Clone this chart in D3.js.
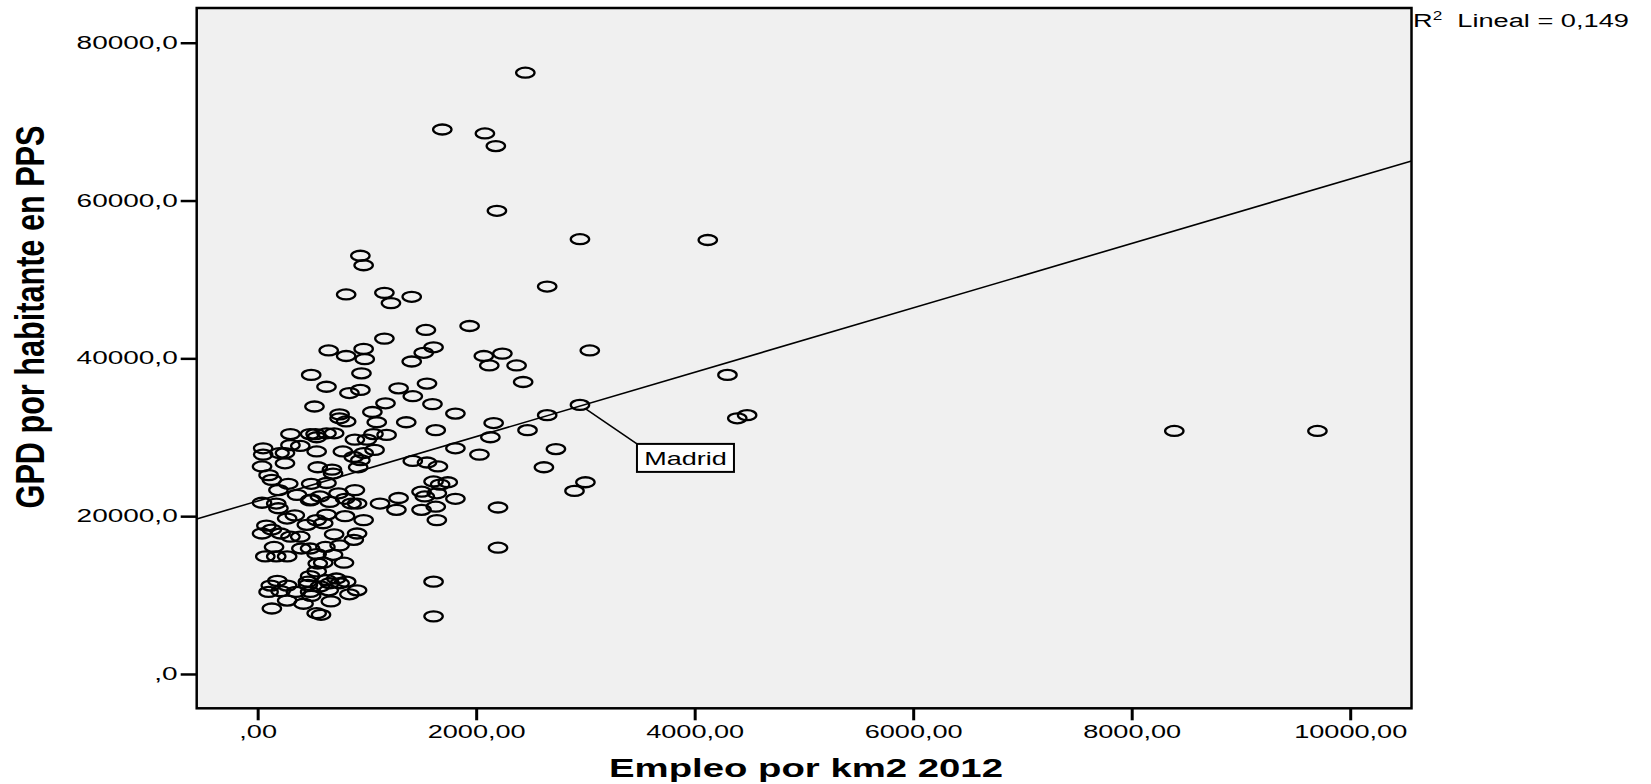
<!DOCTYPE html>
<html>
<head>
<meta charset="utf-8">
<script src="https://cdn.jsdelivr.net/npm/d3@7"></script>
<style>
  html, body { margin: 0; padding: 0; background: #ffffff; }
  svg { display: block; }
  text { font-family: "Liberation Sans", Arial, Helvetica, sans-serif; fill: #000; }
</style>
</head>
<body>
<svg id="chart" width="1651" height="784"></svg>
<script>
// Employment density (jobs per km2, 2012) for each region
const empleo = [
  2450, 1690, 2080, 2180, 2190, 2950, 4120, 2650, 1940, 3040, 4300, 4390, 4480, 8390, 9700, 2950,
  2730, 2620, 3000, 2900, 2200, 2200, 1610, 1610, 2650, 2470, 2130, 2160, 1810, 2030, 1810, 1810,
  2070, 2240, 2120, 2370, 2430,
  940, 970, 810, 1160, 1220, 1410, 1540, 1160, 650, 810, 970, 980, 1610, 1520, 1410, 490,
  950, 630, 840, 940, 1290, 1550, 1420, 520, 1170, 1600, 1050, 750, 750, 810, 1090, 1360, 1630,
  300, 480, 530, 540, 630, 700, 890, 1000, 1060, 1180,
  50, 50, 300, 390, 250, 200, 540, 780, 880, 970, 1070, 940,
  40, 250, 550, 680, 690, 920, 1420, 1550, 1650,
  100, 130, 280, 490, 630, 1610, 1670, 1740, 190, 360, 490, 570, 740, 890, 1500, 1530, 1640,
  40, 170, 190, 480, 660, 800, 860, 910, 1120, 1290, 1270, 1500, 1630,
  270, 340, 630, 540, 800, 970, 1640, 80, 130, 40, 450, 600,
  210, 300, 390, 700, 910, 880, 750,
  150, 70, 170, 270, 400, 480, 620, 690, 540,
  550, 600, 790, 540,
  480, 460, 180, 120, 100, 210, 270, 350, 460, 480, 570, 630, 660, 720, 750, 810, 650, 910, 840, 490,
  270, 420, 670, 130, 540, 580
];

// GDP per inhabitant in PPS for the same regions
const gdp = [
  76200, 69000, 68500, 66900, 58700, 55100, 55000, 49100, 44100, 41000, 37900, 32400, 32800, 30800, 30800, 34100,
  28500, 26200, 24300, 23200, 21100, 16000, 11700, 7300, 32800, 30900, 30000, 31800, 33000, 27800, 28600, 22200,
  40300, 40600, 39100, 39100, 37000,
  53000, 51800, 48100, 48300, 47000, 47800, 43600, 42500, 41000, 40300, 41200, 39900, 41400, 40700, 39600, 37900,
  38100, 36400, 35600, 36000, 36200, 36800, 35200, 33900, 34300, 34200, 33200, 32900, 32400, 32000, 31900, 31900, 30900,
  30400, 30400, 30400, 30000, 30500, 30500, 29700, 29700, 30400, 30300,
  28600, 27800, 29000, 28900, 28000, 28000, 28200, 28200, 27500, 28000, 28400, 27100,
  26300, 26700, 26200, 25900, 25400, 26200, 27000, 26800, 26300,
  25200, 24600, 24100, 24100, 24200, 24400, 24000, 24300, 23300, 22700, 22100, 22500, 22900, 23300, 23100, 22500, 22900,
  21700, 21600, 21000, 22000, 21800, 22200, 21600, 21600, 21600, 22300, 20800, 20800, 21200,
  19700, 20100, 20200, 19500, 20000, 19500, 19500, 18800, 18300, 17800, 18900, 19100,
  17800, 17400, 17400, 17700, 17800, 17000, 16300,
  16100, 14900, 14900, 14900, 15900, 15900, 16100, 15100, 15200,
  14000, 14100, 14100, 13000,
  12400, 11700, 11800, 11200, 10400, 10500, 11200, 10400, 11300, 10400, 11100, 11900, 11500, 12100, 11500, 11700, 10600, 10600, 10100, 9900,
  9300, 8900, 9200, 8300, 7700, 7500
];

// Axis ticks and their labels (decimal comma)
const xTickValues = [0, 2000, 4000, 6000, 8000, 10000];
const xTickLabels = [",00", "2000,00", "4000,00", "6000,00", "8000,00", "10000,00"];
const yTickValues = [0, 20000, 40000, 60000, 80000];
const yTickLabels = [",0", "20000,0", "40000,0", "60000,0", "80000,0"];

// Axis extents
const xDomain = [-558, 10561];
const yDomain = [-4350, 84400];

// Linear fit
const fitIntercept = 21920;
const fitSlope = 4.08;
const rSquared = 0.149;

// Labelled region
const labelName = "Madrid";
const labelEmpleo = 2950;
const labelGdp = 34100;

const xTitle = "Empleo por km2 2012";
const yTitle = "GPD por habitante en PPS";

// ---------------------------------------------------------------
const svg = d3.select("#chart");
const frame = { left: 196.7, top: 8, right: 1411.5, bottom: 708.3 };

const x = d3.scaleLinear().domain(xDomain).range([frame.left, frame.right]);
const y = d3.scaleLinear().domain(yDomain).range([frame.bottom, frame.top]);

const RX = 9.2, RY = 5.0;

// stretch a text horizontally around its anchor point
function stretch(sel, sx) {
  sel.each(function () {
    const t = d3.select(this);
    const tx = +t.attr("x") || 0;
    const ty = +t.attr("y") || 0;
    t.attr("x", 0).attr("y", 0)
     .attr("transform", `translate(${tx},${ty}) scale(${sx},1)`);
  });
}

// plot background
svg.append("rect")
  .attr("x", frame.left).attr("y", frame.top)
  .attr("width", frame.right - frame.left)
  .attr("height", frame.bottom - frame.top)
  .attr("fill", "#f0f0f0");

svg.append("clipPath").attr("id", "plotClip")
  .append("rect")
  .attr("x", frame.left).attr("y", frame.top)
  .attr("width", frame.right - frame.left)
  .attr("height", frame.bottom - frame.top);

const plot = svg.append("g").attr("clip-path", "url(#plotClip)");

// fit line
const fitLine = d3.line().x(d => x(d)).y(d => y(fitIntercept + fitSlope * d));
plot.append("path")
  .attr("d", fitLine(xDomain))
  .attr("fill", "none")
  .attr("stroke", "#000")
  .attr("stroke-width", 1.6);

// label connector + box for the highlighted region
const lx = x(labelEmpleo), ly = y(labelGdp);
const box = { dx: 57, dy: 39, w: 97, h: 28 };
{
  const ddx = box.dx, ddy = box.dy;
  const t = 1 / Math.sqrt((ddx / RX) ** 2 + (ddy / RY) ** 2);
  plot.append("line")
    .attr("x1", lx + ddx * t).attr("y1", ly + ddy * t)
    .attr("x2", lx + ddx).attr("y2", ly + ddy)
    .attr("stroke", "#000").attr("stroke-width", 1.6);
}

// points
const pts = d3.range(empleo.length).map(i => ({ x: empleo[i], y: gdp[i] }));
plot.append("g")
  .selectAll("ellipse")
  .data(pts)
  .join("ellipse")
  .attr("cx", d => x(d.x))
  .attr("cy", d => y(d.y))
  .attr("rx", RX)
  .attr("ry", RY)
  .attr("fill", "none")
  .attr("stroke", "#000")
  .attr("stroke-width", 2.3);

// label box
plot.append("rect")
  .attr("x", lx + box.dx).attr("y", ly + box.dy)
  .attr("width", box.w).attr("height", box.h)
  .attr("fill", "#fff").attr("stroke", "#000").attr("stroke-width", 2);
const madrid = plot.append("text")
  .attr("x", lx + box.dx + box.w / 2)
  .attr("y", ly + box.dy + 21)
  .attr("text-anchor", "middle")
  .attr("font-size", 18)
  .text(labelName);
stretch(madrid, 1.5);

// frame
svg.append("rect")
  .attr("x", frame.left).attr("y", frame.top)
  .attr("width", frame.right - frame.left)
  .attr("height", frame.bottom - frame.top)
  .attr("fill", "none")
  .attr("stroke", "#000")
  .attr("stroke-width", 2.5);

// axes
const yAxis = d3.axisLeft(y)
  .tickValues(yTickValues)
  .tickFormat((d, i) => yTickLabels[i])
  .tickSize(16).tickSizeOuter(0).tickPadding(3);
const yG = svg.append("g")
  .attr("transform", `translate(${frame.left},0)`)
  .call(yAxis);
yG.select(".domain").remove();
yG.selectAll(".tick line").attr("stroke", "#000").attr("stroke-width", 2.5);
yG.selectAll(".tick text").attr("font-size", 17.5).attr("font-family", null).attr("fill", "#000");
stretch(yG.selectAll(".tick text"), 1.6);

const xAxis = d3.axisBottom(x)
  .tickValues(xTickValues)
  .tickFormat((d, i) => xTickLabels[i])
  .tickSize(12).tickSizeOuter(0).tickPadding(5);
const xG = svg.append("g")
  .attr("transform", `translate(0,${frame.bottom})`)
  .call(xAxis);
xG.select(".domain").remove();
xG.selectAll(".tick line").attr("stroke", "#000").attr("stroke-width", 3);
xG.selectAll(".tick text").attr("font-size", 17.5).attr("font-family", null).attr("fill", "#000");
stretch(xG.selectAll(".tick text"), 1.55);

// axis titles
const xt = svg.append("text")
  .attr("text-anchor", "middle")
  .attr("font-size", 25)
  .attr("font-weight", "bold")
  .text(xTitle);
{
  const w = xt.node().getComputedTextLength();
  xt.attr("transform", `translate(806,777) scale(${394 / w},1)`);
}

const yt = svg.append("text")
  .attr("text-anchor", "middle")
  .attr("font-size", 40)
  .attr("font-weight", "bold")
  .style("font-family", "'Liberation Sans Narrow', 'Liberation Sans', Arial, sans-serif")
  .text(yTitle);
{
  const w = yt.node().getComputedTextLength();
  yt.attr("transform", `translate(44,317) rotate(-90) scale(${383 / w},1)`);
}

// fit annotation
const r2 = svg.append("text")
  .attr("font-size", 19)
  .style("white-space", "pre");
r2.append("tspan").text("R");
r2.append("tspan").attr("font-size", 12).attr("dy", -7).text("2");
r2.append("tspan").attr("dy", 7).text("  Lineal = " + d3.format(".3f")(rSquared).replace(".", ","));
{
  const w = r2.node().getComputedTextLength();
  r2.attr("transform", `translate(1413,27) scale(${216 / w},1)`);
}
</script>
</body>
</html>
